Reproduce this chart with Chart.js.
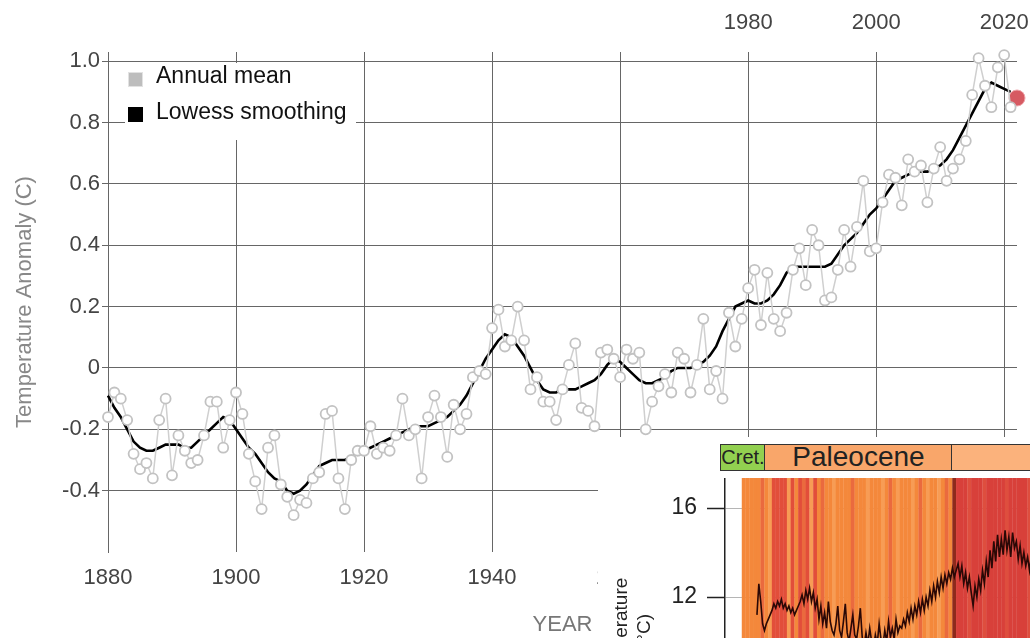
<!DOCTYPE html>
<html lang="en">
<head>
<meta charset="utf-8">
<title>Global temperature anomaly</title>
<script src="https://cdn.jsdelivr.net/npm/chart.js@4.4.0/dist/chart.umd.min.js"></script>
<style>
  body { margin: 0; width: 1030px; height: 638px; overflow: hidden; background: #fff; position: relative;
         font-family: "Liberation Sans", Arial, sans-serif; }
  #mainChart { position: absolute; left: 0; top: 0; }
  #legend { position: absolute; left: 125px; top: 63px; width: 231px; height: 77px; background: #fff; }
  .item { position: absolute; left: 31px; font-size: 23px; line-height: 23px; color: #111; white-space: nowrap; }
  .box { position: absolute; left: 3px; width: 15px; height: 15px; }
  #inset { position: absolute; left: 598px; top: 437px; width: 432px; height: 201px; background: #fff; overflow: hidden; }
  .band { position: absolute; top: 7px; height: 27px; box-sizing: border-box; border: 1.5px solid #333;
          color: #222; text-align: center; white-space: nowrap; overflow: hidden; }
  #insetChart { position: absolute; left: 2px; top: 41px; }
</style>
</head>
<body>

<canvas id="mainChart" width="1030" height="638"></canvas>

<div id="legend">
  <div class="box" style="top:9px;background:#bdbdbd;border:1px solid #e2e2e2;box-sizing:border-box;"></div>
  <div class="item" style="top:1px;">Annual mean</div>
  <div class="box" style="top:44px;background:#000;"></div>
  <div class="item" style="top:37px;">Lowess smoothing</div>
</div>

<div id="inset">
  <div class="band" style="left:122px;width:46px;background:#92d050;font-size:20px;line-height:24px;">Cret.</div>
  <div class="band" style="left:166px;width:189px;background:#f9a66a;font-size:28px;line-height:24px;">Paleocene</div>
  <div class="band" style="left:353px;width:100px;background:#fbb27c;"></div>
  <canvas id="insetChart" width="500" height="306"></canvas>
</div>

<script>
// ---- main chart data (GISTEMP style) ----
const firstYear = 1880;
const annualMean = [
  -0.16,-0.08,-0.10,-0.17,-0.28,-0.33,-0.31,-0.36,-0.17,-0.10,
  -0.35,-0.22,-0.27,-0.31,-0.30,-0.22,-0.11,-0.11,-0.26,-0.17,
  -0.08,-0.15,-0.28,-0.37,-0.46,-0.26,-0.22,-0.38,-0.42,-0.48,
  -0.43,-0.44,-0.36,-0.34,-0.15,-0.14,-0.36,-0.46,-0.30,-0.27,
  -0.27,-0.19,-0.28,-0.26,-0.27,-0.22,-0.10,-0.22,-0.20,-0.36,
  -0.16,-0.09,-0.16,-0.29,-0.12,-0.20,-0.15,-0.03,-0.01,-0.02,
   0.13, 0.19, 0.07, 0.09, 0.20, 0.09,-0.07,-0.03,-0.11,-0.11,
  -0.17,-0.07, 0.01, 0.08,-0.13,-0.14,-0.19, 0.05, 0.06, 0.03,
  -0.03, 0.06, 0.03, 0.05,-0.20,-0.11,-0.06,-0.02,-0.08, 0.05,
   0.03,-0.08, 0.01, 0.16,-0.07,-0.01,-0.10, 0.18, 0.07, 0.16,
   0.26, 0.32, 0.14, 0.31, 0.16, 0.12, 0.18, 0.32, 0.39, 0.27,
   0.45, 0.40, 0.22, 0.23, 0.32, 0.45, 0.33, 0.46, 0.61, 0.38,
   0.39, 0.54, 0.63, 0.62, 0.53, 0.68, 0.64, 0.66, 0.54, 0.65,
   0.72, 0.61, 0.65, 0.68, 0.74, 0.89, 1.01, 0.92, 0.85, 0.98,
   1.02, 0.85
];
const lowess = [
  -0.09,-0.13,-0.16,-0.20,-0.24,-0.26,-0.27,-0.27,-0.26,-0.25,
  -0.25,-0.25,-0.26,-0.26,-0.24,-0.22,-0.20,-0.18,-0.16,-0.17,
  -0.20,-0.23,-0.26,-0.28,-0.31,-0.34,-0.36,-0.37,-0.40,-0.41,
  -0.40,-0.38,-0.35,-0.32,-0.31,-0.30,-0.30,-0.30,-0.29,-0.28,
  -0.27,-0.26,-0.25,-0.24,-0.23,-0.22,-0.21,-0.20,-0.19,-0.19,
  -0.19,-0.18,-0.17,-0.16,-0.14,-0.12,-0.09,-0.05,-0.01, 0.03,
   0.06, 0.09, 0.11, 0.10, 0.07, 0.04, 0.00,-0.04,-0.07,-0.08,
  -0.08,-0.07,-0.07,-0.07,-0.06,-0.05,-0.04,-0.02, 0.01, 0.03,
   0.02, 0.00,-0.02,-0.04,-0.05,-0.05,-0.04,-0.03,-0.01, 0.00,
   0.00, 0.00, 0.01, 0.02, 0.04, 0.07, 0.12, 0.16, 0.20, 0.21,
   0.22, 0.21, 0.21, 0.22, 0.24, 0.27, 0.31, 0.33, 0.33, 0.33,
   0.33, 0.33, 0.33, 0.34, 0.37, 0.40, 0.42, 0.44, 0.47, 0.50,
   0.52, 0.55, 0.58, 0.61, 0.62, 0.63, 0.64, 0.64, 0.64, 0.65,
   0.66, 0.68, 0.71, 0.75, 0.79, 0.83, 0.87, 0.91, 0.93, 0.92,
   0.91, 0.90
];
const latestYear = 2022;
const latestValue = 0.88;
const xTicks = [1880, 1900, 1920, 1940, 1960, 1980, 2000, 2020];
const topTicks = [1980, 2000, 2020];
const yTicks = [-0.4, -0.2, 0, 0.2, 0.4, 0.6, 0.8, 1.0];

// ---- inset data (Paleocene climate stripes + temperature curve) ----
const stripeStartAge = 67.2;   // Ma, left edge of the stripes
const stripeStep = 0.2;        // Ma per stripe
const stripeCodes = ("ooooo" + "rol" + "RRRR" + "lRoRrRlRor" + "ooloooo" + "r" +
  "ooolooolorolooolorolooloro" + "d" + "eeeqeeeqeeeeeqeeeeeqeeeeeeqeeeeqeeeeee").split("");
const stripePalette = { o: "#f4883b", l: "#f79c55", r: "#ea6a3e", R: "#e24e3a", d: "#8e2a1c", e: "#d8403a", q: "#de4e3e" };
const curveStartAge = 66.4;
const curveStep = 0.1;
const curveTemps = [
  11.2, 12.6, 11.8, 10.8,
  10.5, 10.8, 11.0, 11.2,
  11.4, 11.7, 11.5, 11.8, 11.6, 11.9, 11.5, 11.7, 11.4, 11.6, 11.3, 11.5, 11.2, 11.4, 11.6,
  11.8, 12.1, 11.7, 12.3, 11.9, 12.4, 11.8, 12.2,
  11.5, 11.9, 11.0, 11.6, 10.8, 11.3, 10.6, 11.8, 10.9, 10.5,
  10.3, 10.8, 11.6, 10.5, 10.2, 10.9, 11.7, 10.4, 10.0, 10.6, 11.2, 10.3, 10.1, 10.7, 11.5,
  10.2, 9.8, 10.4, 9.9, 10.6, 10.0, 9.7, 10.3, 9.9, 10.8, 10.1, 9.8, 10.5, 10.0, 10.9, 10.2, 10.6, 10.1, 11.0, 10.4, 10.7,
  10.6, 11.0, 10.7, 11.3, 10.9, 11.5, 11.0, 11.6, 11.2, 11.8, 11.3, 11.9, 11.4, 12.0, 11.6, 12.3, 11.8, 12.5, 12.0, 12.7,
  12.2, 12.9, 12.4, 13.0, 12.6, 13.1, 12.8, 13.3, 12.9,
  13.2, 13.5, 12.9, 13.4, 12.6, 13.1, 12.4, 12.9, 12.2, 11.6, 12.5, 12.0, 12.8, 12.3, 13.2, 12.6, 13.6, 12.9, 14.1, 13.3,
  14.5, 13.6, 14.8, 13.8, 14.6, 13.9, 15.0, 14.1, 14.7, 13.8, 14.9, 14.2, 14.5, 13.7, 14.3, 13.5, 14.0, 13.4, 13.8, 13.2,
  13.9, 13.5, 14.1, 13.6
];
const insetTicks = [12, 16];

// ---- main chart ----
const tickFont = { family: "Liberation Sans", size: 22 };
const gridColor = "#666";
const noSidePad = s => { s.paddingLeft = 0; s.paddingRight = 0; };

new Chart(document.getElementById("mainChart"), {
  type: "line",
  data: {
    datasets: [
      {
        label: "Annual mean",
        data: annualMean.map((v, i) => ({ x: firstYear + i, y: v })),
        borderColor: "#cfcfcf",
        borderWidth: 1.5,
        pointRadius: 5,
        pointBorderWidth: 1.8,
        pointBorderColor: "#c2c2c2",
        pointBackgroundColor: "#fff",
        clip: false
      },
      {
        label: "Lowess smoothing",
        data: lowess.map((v, i) => ({ x: firstYear + i, y: v })),
        borderColor: "#000",
        borderWidth: 2.6,
        pointRadius: 0,
        clip: false
      },
      {
        label: "latest",
        data: [{ x: latestYear, y: latestValue }],
        showLine: false,
        pointRadius: 8,
        pointBackgroundColor: "#d65a62",
        pointBorderColor: "#eea4aa",
        pointBorderWidth: 1,
        clip: false
      }
    ]
  },
  options: {
    responsive: false,
    animation: false,
    devicePixelRatio: 1,
    layout: { padding: { left: 0, right: 13, top: 0, bottom: 0 } },
    plugins: { legend: { display: false }, tooltip: { enabled: false } },
    scales: {
      x: {
        type: "linear", position: "bottom", min: 1880, max: 2022,
        afterBuildTicks: s => { s.ticks = xTicks.map(v => ({ value: v })); },
        afterFit: s => { s.height = 86; noSidePad(s); },
        grid: { color: gridColor, lineWidth: 1, drawTicks: false },
        border: { display: false },
        ticks: { font: tickFont, color: "#444", padding: 13, maxRotation: 0, callback: v => String(v) },
        title: { display: true, text: "YEAR", font: tickFont, color: "#777", padding: { top: 0, bottom: 0 } }
      },
      x2: {
        type: "linear", position: "top", min: 1880, max: 2022,
        afterBuildTicks: s => { s.ticks = topTicks.map(v => ({ value: v })); },
        afterFit: s => { s.height = 52; noSidePad(s); },
        grid: { display: false, drawTicks: false },
        border: { display: false },
        ticks: { font: tickFont, color: "#444", padding: 16, maxRotation: 0, callback: v => String(v) }
      },
      y: {
        type: "linear", min: -0.6, max: 1.03,
        afterBuildTicks: s => { s.ticks = yTicks.map(v => ({ value: v })); },
        afterFit: s => { s.width = 108; s.paddingTop = 0; s.paddingBottom = 0; },
        grid: { color: gridColor, lineWidth: 1, tickLength: 6 },
        border: { display: true, color: gridColor, width: 1 },
        ticks: { font: tickFont, color: "#444", padding: 2,
                 callback: v => (Math.abs(v) < 1e-9 ? "0" : v.toFixed(1)) },
        title: { display: true, text: "Temperature Anomaly (C)", font: tickFont, color: "#888",
                 padding: { top: 12, bottom: 0 } }
      }
    }
  }
});

// ---- inset chart ----
new Chart(document.getElementById("insetChart"), {
  type: "bar",
  data: {
    datasets: [
      {
        type: "line",
        data: curveTemps.map((t, i) => ({ x: curveStartAge - i * curveStep, y: t })),
        borderColor: "#2a0806",
        borderWidth: 1.6,
        pointRadius: 0,
        tension: 0
      },
      {
        type: "bar",
        data: stripeCodes.map((c, i) => ({ x: stripeStartAge - (i + 0.5) * stripeStep, y: 20 })),
        backgroundColor: stripeCodes.map(c => stripePalette[c]),
        borderWidth: 0,
        barPercentage: 1.08,
        categoryPercentage: 1,
        grouped: false
      }
    ]
  },
  options: {
    responsive: false,
    animation: false,
    devicePixelRatio: 1,
    layout: { padding: 0 },
    plugins: { legend: { display: false }, tooltip: { enabled: false } },
    scales: {
      x: { type: "linear", reverse: true, min: 48.15, max: 68.1, offset: false, display: false },
      y: {
        type: "linear", min: 3.6, max: 17.35, z: 1,
        afterBuildTicks: s => { s.ticks = insetTicks.map(v => ({ value: v })); },
        afterFit: s => { s.width = 125; s.paddingTop = 0; s.paddingBottom = 0; },
        grid: { color: "rgba(150,150,150,0.7)", borderDash: [3, 3], lineWidth: 1, tickLength: 18,
                tickColor: "#222", tickWidth: 1.5, tickBorderDash: [1, 0] },
        border: { display: true, color: "#222", width: 1.5 },
        ticks: { font: { family: "Liberation Sans", size: 23 }, color: "#222", padding: 10 },
        title: { display: true, text: ["Temperature", "(°C)"], font: { family: "Liberation Sans", size: 19, lineHeight: 1.2 },
                 color: "#222", padding: { top: 10.6, bottom: 0 } }
      }
    }
  }
});
</script>
</body>
</html>
